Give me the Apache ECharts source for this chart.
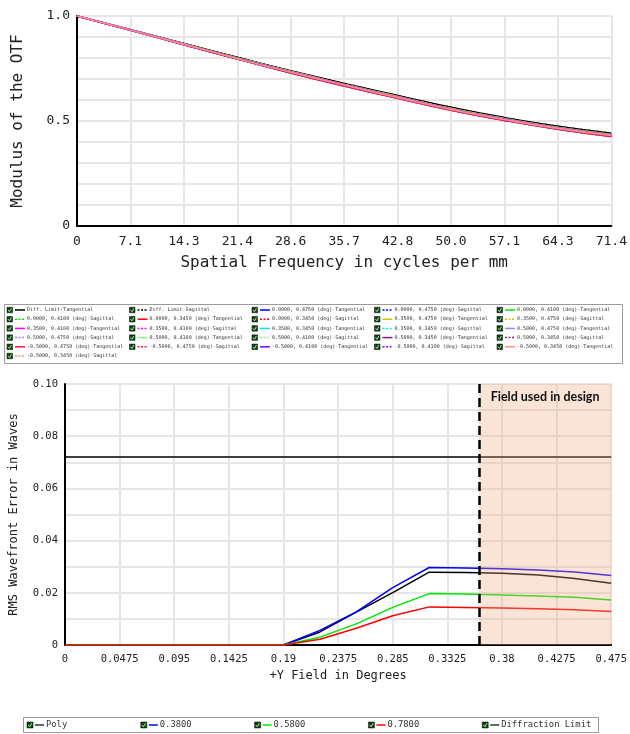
<!DOCTYPE html>
<html>
<head>
<meta charset="utf-8">
<script src="https://cdn.jsdelivr.net/npm/echarts@6/dist/echarts.min.js"></script>
<style>
body{margin:0;background:#fff}
#main{width:630px;height:734px}
</style>
</head>
<body>
<div id="main"></div>
<script>
// ---- MTF (top chart) ----
var otfFreq = [0, 7.14, 14.28, 21.42, 28.56, 35.7, 42.84, 49.98, 57.12, 64.26, 71.4];
var otfXLabels = ['0', '7.1', '14.3', '21.4', '28.6', '35.7', '42.8', '50.0', '57.1', '64.3', '71.4'];
var otfYLabels = ['0', '', '', '', '', '0.5', '', '', '', '', '1.0'];

var otfDiff = [1.000, 0.935, 0.869, 0.803, 0.739, 0.679, 0.621, 0.565, 0.516, 0.475, 0.442];
var otfHigh = [1.000, 0.934, 0.867, 0.800, 0.735, 0.674, 0.616, 0.559, 0.511, 0.469, 0.436];
var otfMid = [1.000, 0.933, 0.865, 0.797, 0.732, 0.671, 0.612, 0.555, 0.507, 0.465, 0.431];
var otfLow = [1.000, 0.932, 0.863, 0.795, 0.729, 0.667, 0.608, 0.551, 0.503, 0.461, 0.426];

var otfFields = ['0.0000, 0.4750', '0.0000, 0.4100', '0.0000, 0.3450', '0.3500, 0.4750',
	'0.3500, 0.4100', '0.3500, 0.3450', '0.5000, 0.4750', '0.5000, 0.4100', '0.5000, 0.3450',
	'-0.5000, 0.4750', '-0.5000, 0.4100', '-0.5000, 0.3450'];
var otfColors = ['#0000ff', '#00e600', '#ff0000', '#c8c800', '#ff00ff', '#00e5ff',
	'#8c8cff', '#88f088', '#8b1a8b', '#ff1040', '#8000ff', '#ff8c8c'];
var otfTang = [otfHigh, otfHigh, otfMid, otfHigh, otfMid, otfMid, otfMid, otfMid, otfLow, otfLow, otfMid, otfMid];
var otfSag = [otfHigh, otfHigh, otfHigh, otfHigh, otfHigh, otfMid, otfHigh, otfMid, otfMid, otfLow, otfMid, otfMid];

// ---- RMS wavefront (bottom chart) ----
var rmsField = [0, 0.0317, 0.0633, 0.095, 0.1267, 0.1583, 0.19, 0.2217, 0.2533, 0.285, 0.3167, 0.3483, 0.38, 0.4117, 0.4433, 0.475];
var rmsPoly = [0, 0, 0, 0, 0, 0, 0, 0.0050, 0.0126, 0.0201, 0.0279, 0.0278, 0.0275, 0.0268, 0.0255, 0.0237];
var rms380 = [0, 0, 0, 0, 0, 0, 0, 0.0056, 0.0127, 0.0220, 0.0297, 0.0295, 0.0292, 0.0287, 0.0280, 0.0266];
var rms580 = [0, 0, 0, 0, 0, 0, 0, 0.0030, 0.0081, 0.0144, 0.0197, 0.0195, 0.0192, 0.0188, 0.0183, 0.0172];
var rms780 = [0, 0, 0, 0, 0, 0, 0, 0.0022, 0.0064, 0.0112, 0.0146, 0.0144, 0.0142, 0.0139, 0.0135, 0.0128];
var rmsDiffField = [0, 0.475];
var rmsDiff = [0.072, 0.072];
var rmsXLabels = ['0', '0.0475', '0.095', '0.1425', '0.19', '0.2375', '0.285', '0.3325', '0.38', '0.4275', '0.475'];
var rmsYLabels = ['0', '', '0.02', '', '0.04', '', '0.06', '', '0.08', '', '0.10'];
var rmsNames = ['Poly', '0.3800', '0.5800', '0.7800', 'Diffraction Limit'];
var rmsColors = ['#000000', '#0000ff', '#00e600', '#ff0000', '#000000'];
var designStart = 0.36;
var designEnd = 0.475;

var mono = 'DejaVu Sans Mono';

function pairs(xs, ys) {
	var out = [];
	for (var i = 0; i < xs.length; i++) {
		out.push([xs[i], ys[i]]);
	}
	return out;
}

// legend entries of the top chart, in the order they are listed
var otfEntries = [
	{name: 'Diff. Limit-Tangential', color: '#000000', dash: false, data: otfDiff},
	{name: 'Diff. Limit-Sagittal', color: '#000000', dash: true, data: otfDiff}
];
for (var f = 0; f < otfFields.length; f++) {
	otfEntries.push({name: otfFields[f] + ' (deg)-Tangential', color: otfColors[f], dash: false, data: otfTang[f]});
	otfEntries.push({name: otfFields[f] + ' (deg)-Sagittal', color: otfColors[f], dash: true, data: otfSag[f]});
}

var series = [];
otfEntries.forEach(function (e) {
	series.push({
		name: e.name,
		type: 'line',
		xAxisIndex: 0,
		yAxisIndex: 0,
		smooth: true,
		symbol: 'none',
		silent: true,
		data: pairs(otfFreq, e.data),
		lineStyle: {color: e.color, width: 1.6, type: e.dash ? [2, 2] : 'solid'}
	});
});

var rmsData = [rmsPoly, rms380, rms580, rms780];
for (var r = 0; r < rmsData.length; r++) {
	series.push({
		name: rmsNames[r],
		type: 'line',
		xAxisIndex: 1,
		yAxisIndex: 1,
		symbol: 'none',
		silent: true,
		data: pairs(rmsField, rmsData[r]),
		lineStyle: {color: rmsColors[r], width: 1.5}
	});
}
series.push({
	name: rmsNames[4],
	type: 'line',
	xAxisIndex: 1,
	yAxisIndex: 1,
	symbol: 'none',
	silent: true,
	data: pairs(rmsDiffField, rmsDiff),
	lineStyle: {color: rmsColors[4], width: 1.5},
	markArea: {
		silent: true,
		z: 6,
		itemStyle: {color: 'rgba(240,170,130,0.32)'},
		label: {
			show: true,
			position: 'insideTop',
			distance: 6,
			fontFamily: 'Lato',
			fontWeight: 'bold',
			fontSize: 12.5,
			color: '#111'
		},
		data: [[{name: 'Field used in design', xAxis: designStart, yAxis: 0}, {xAxis: designEnd, yAxis: 0.1}]]
	},
	markLine: {
		silent: true,
		z: 7,
		symbol: 'none',
		label: {show: false},
		lineStyle: {color: '#000', width: 2.5, type: [9, 5]},
		data: [{xAxis: designStart}]
	}
});

// hand-drawn legends (check box, line sample, text)
var graphics = [];
function checkBox(x, y, s) {
	graphics.push({type: 'rect', shape: {x: x, y: y - s / 2, width: s, height: s},
		style: {fill: '#16401a', stroke: '#000', lineWidth: 0.5}, silent: true});
	graphics.push({type: 'polyline', shape: {points: [[x + s * 0.2, y], [x + s * 0.45, y + s * 0.3], [x + s * 0.8, y - s * 0.3]]},
		style: {stroke: '#8fff8f', lineWidth: 1, fill: null}, silent: true});
}
graphics.push({type: 'rect', shape: {x: 4.5, y: 304.5, width: 618, height: 59},
	style: {fill: '#fff', stroke: '#9a9a9a', lineWidth: 1}, silent: true});
otfEntries.forEach(function (e, i) {
	var col = i % 5;
	var row = Math.floor(i / 5);
	var x = 7 + col * 122.5;
	var y = 310 + row * 9.2;
	checkBox(x, y, 5.5);
	graphics.push({type: 'line', shape: {x1: x + 8, y1: y, x2: x + 18, y2: y},
		style: {stroke: e.color, lineWidth: 1.5, lineDash: e.dash ? [2, 1.5] : null}, silent: true});
	graphics.push({type: 'text', x: x + 20, y: y, silent: true,
		style: {text: e.name, font: '5px "DejaVu Sans Mono"', fill: '#333', align: 'left', verticalAlign: 'middle'}});
});
graphics.push({type: 'rect', shape: {x: 23.5, y: 717.5, width: 575, height: 15},
	style: {fill: '#fff', stroke: '#9a9a9a', lineWidth: 1}, silent: true});
rmsNames.forEach(function (n, i) {
	var x = 27 + i * 113.8;
	var y = 725;
	checkBox(x, y, 6);
	graphics.push({type: 'line', shape: {x1: x + 8, y1: y, x2: x + 17, y2: y},
		style: {stroke: rmsColors[i] === '#000000' ? '#333' : rmsColors[i], lineWidth: 1.5}, silent: true});
	graphics.push({type: 'text', x: x + 19, y: y, silent: true,
		style: {text: n, font: '8.8px "DejaVu Sans Mono"', fill: '#333', align: 'left', verticalAlign: 'middle'}});
});

var gridLine = {show: true, lineStyle: {color: '#e6e6e6', width: 2}};
var axisBlack = {show: true, onZero: false, lineStyle: {color: '#000', width: 2}};

var myChart = echarts.init(document.getElementById('main'));
var option = {
	animation: false,
	backgroundColor: '#fff',
	grid: [
		{left: 77, right: 16, top: 16, height: 210},
		{left: 65, right: 17, top: 384, height: 261}
	],
	xAxis: [
		{
			gridIndex: 0, type: 'value', min: 0, max: 71.4, interval: 7.14,
			name: 'Spatial Frequency in cycles per mm', nameLocation: 'middle', nameGap: 29,
			nameTextStyle: {fontFamily: mono, fontSize: 16, color: '#222'},
			axisLine: axisBlack, axisTick: {show: false}, splitLine: gridLine,
			axisLabel: {fontFamily: mono, fontSize: 13, color: '#222', margin: 9, showMinLabel: true, showMaxLabel: true,
				formatter: function (v, i) { return otfXLabels[i]; }}
		},
		{
			gridIndex: 1, type: 'value', min: 0, max: 0.475, interval: 0.0475,
			name: '+Y Field in Degrees', nameLocation: 'middle', nameGap: 25,
			nameTextStyle: {fontFamily: mono, fontSize: 12, color: '#222'},
			axisLine: axisBlack, axisTick: {show: false}, splitLine: gridLine,
			axisLabel: {fontFamily: mono, fontSize: 10.5, color: '#222', margin: 9, showMinLabel: true, showMaxLabel: true,
				formatter: function (v, i) { return rmsXLabels[i]; }}
		}
	],
	yAxis: [
		{
			gridIndex: 0, type: 'value', min: 0, max: 1, interval: 0.1,
			name: 'Modulus of the OTF', nameLocation: 'middle', nameGap: 51,
			nameTextStyle: {fontFamily: mono, fontSize: 16, color: '#222'},
			axisLine: axisBlack, axisTick: {show: false}, splitLine: gridLine,
			axisLabel: {fontFamily: mono, fontSize: 13, color: '#222', margin: 7,
				formatter: function (v, i) { return otfYLabels[i]; }}
		},
		{
			gridIndex: 1, type: 'value', min: 0, max: 0.1, interval: 0.01,
			name: 'RMS Wavefront Error in Waves', nameLocation: 'middle', nameGap: 45,
			nameTextStyle: {fontFamily: mono, fontSize: 12, color: '#222'},
			axisLine: axisBlack, axisTick: {show: false}, splitLine: gridLine,
			axisLabel: {fontFamily: mono, fontSize: 10.5, color: '#222', margin: 7,
				formatter: function (v, i) { return rmsYLabels[i]; }}
		}
	],
	graphic: graphics,
	series: series
};
myChart.setOption(option);
</script>
</body>
</html>
